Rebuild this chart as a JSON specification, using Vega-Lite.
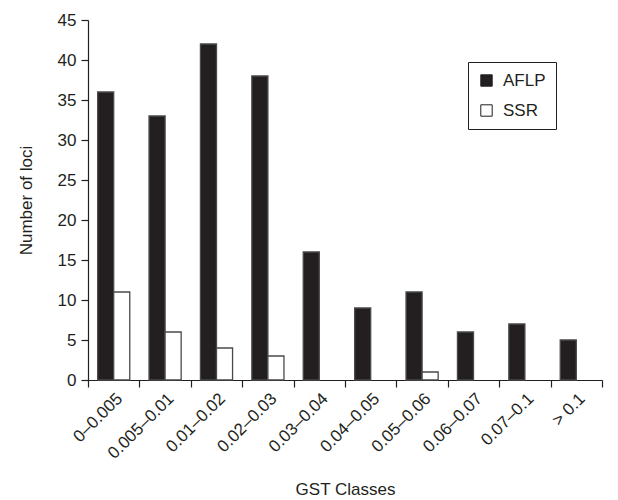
{
  "$schema": "https://vega.github.io/schema/vega-lite/v6.json",
  "width": 514,
  "height": 360,
  "autosize": {"type": "none"},
  "padding": {"left": 88, "top": 20, "right": 16, "bottom": 120},
  "config": {
    "view": {"stroke": null},
    "font": "Liberation Sans",
    "axis": {"labelFont": "Liberation Sans", "titleFont": "Liberation Sans", "labelColor": "#231f20", "titleColor": "#231f20", "domainColor": "#231f20", "tickColor": "#231f20", "titleFontWeight": "normal", "domainWidth": 1.2, "tickWidth": 1.2}
  },
  "data": {
    "values": [
      {"cls": "0–0.005", "marker": "AFLP", "n": 36},
      {"cls": "0–0.005", "marker": "SSR", "n": 11},
      {"cls": "0.005–0.01", "marker": "AFLP", "n": 33},
      {"cls": "0.005–0.01", "marker": "SSR", "n": 6},
      {"cls": "0.01–0.02", "marker": "AFLP", "n": 42},
      {"cls": "0.01–0.02", "marker": "SSR", "n": 4},
      {"cls": "0.02–0.03", "marker": "AFLP", "n": 38},
      {"cls": "0.02–0.03", "marker": "SSR", "n": 3},
      {"cls": "0.03–0.04", "marker": "AFLP", "n": 16},
      {"cls": "0.03–0.04", "marker": "SSR", "n": 0},
      {"cls": "0.04–0.05", "marker": "AFLP", "n": 9},
      {"cls": "0.04–0.05", "marker": "SSR", "n": 0},
      {"cls": "0.05–0.06", "marker": "AFLP", "n": 11},
      {"cls": "0.05–0.06", "marker": "SSR", "n": 1},
      {"cls": "0.06–0.07", "marker": "AFLP", "n": 6},
      {"cls": "0.06–0.07", "marker": "SSR", "n": 0},
      {"cls": "0.07–0.1", "marker": "AFLP", "n": 7},
      {"cls": "0.07–0.1", "marker": "SSR", "n": 0},
      {"cls": "> 0.1", "marker": "AFLP", "n": 5},
      {"cls": "> 0.1", "marker": "SSR", "n": 0}
    ]
  },
  "transform": [{"filter": "datum.n > 0"}],
  "mark": {"type": "bar", "stroke": "#4a4a4a", "strokeWidth": 1.3},
  "encoding": {
    "x": {
      "field": "cls", "type": "nominal", "sort": null,
      "scale": {"paddingInner": 0, "paddingOuter": 0},
      "axis": {"title": "GST Classes", "titleFontSize": 17, "titlePadding": 20, "labelAngle": -45, "labelFontSize": 17, "tickBand": "extent", "tickSize": 7, "labelPadding": 3}
    },
    "xOffset": {"field": "marker", "type": "nominal", "scale": {"domain": ["AFLP", "SSR"], "paddingInner": 0, "paddingOuter": 0.6}},
    "y": {
      "field": "n", "type": "quantitative",
      "scale": {"domain": [0, 45]},
      "axis": {"title": "Number of loci", "titleFontSize": 17, "labelFontSize": 17, "values": [0,5,10,15,20,25,30,35,40,45], "grid": false, "tickSize": 7, "labelPadding": 5, "titlePadding": 22}
    },
    "fill": {
      "field": "marker", "type": "nominal",
      "scale": {"domain": ["AFLP", "SSR"], "range": ["#231f20", "#ffffff"]},
      "legend": {
        "title": null, "orient": "none", "legendX": 380, "legendY": 42,
        "strokeColor": "#231f20", "padding": 10, "labelFontSize": 17, "symbolType": "square", "symbolSize": 130,
        "symbolStrokeColor": "#231f20", "symbolStrokeWidth": 1, "rowPadding": 12, "labelColor": "#231f20", "labelFont": "Liberation Sans", "labelOffset": 8
      }
    }
  }
}
